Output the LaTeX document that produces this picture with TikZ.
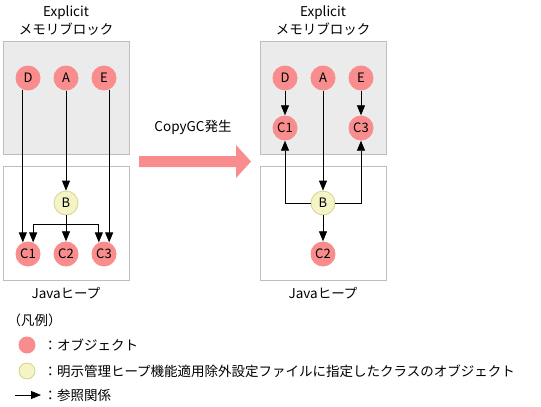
\documentclass[tikz,border=0pt]{standalone}
\usepackage{fontspec}
\setmainfont{Noto Sans CJK JP}
\usetikzlibrary{arrows.meta}

\definecolor{objred}{HTML}{F98C8C}
\definecolor{objyellow}{HTML}{F4F4C6}
\definecolor{objyellowline}{HTML}{D4D48E}
\definecolor{boxgrey}{HTML}{EBEBEB}
\definecolor{boxline}{HTML}{BEBEBE}
\definecolor{bigarrow}{HTML}{F98C8C}

\begin{document}
\begin{tikzpicture}[x=1pt, y=-1pt,
    font=\fontsize{13.5}{15}\selectfont,
    obj/.style={circle, fill=objred, minimum size=25pt, inner sep=0pt, font=\fontsize{13}{14}\selectfont},
    excl/.style={circle, fill=objyellow, draw=objyellowline, line width=0.8pt, minimum size=24pt, inner sep=0pt, font=\fontsize{13}{14}\selectfont},
    explicitbox/.style={fill=boxgrey, draw=boxline, line width=0.8pt},
    heapbox/.style={fill=white, draw=boxline, line width=0.8pt},
    >={Triangle[length=10pt, width=8pt]},
    ref/.style={->, line width=0.8pt}]
    \useasboundingbox (0,0) rectangle (541,407);

    % before CopyGC
    \draw[explicitbox] (3,41) rectangle (129,154);
    \draw[heapbox] (3,166) rectangle (129,280);
    \node (lt1) at (66,13) {Explicit};
    \node (lt2) at (66,29) {メモリブロック};
    \node (lb) at (66,293) {Javaヒープ};
    \node[obj] (D) at (28,78) {D};
    \node[obj] (A) at (66,78) {A};
    \node[obj] (E) at (104,78) {E};
    \node[excl] (B) at (66,203) {B};
    \node[obj] (C1) at (28,254) {C1};
    \node[obj] (C2) at (66,254) {C2};
    \node[obj] (C3) at (104,254) {C3};
    \coordinate (split) at (66,224);
    \draw[ref] (D.-114) -- (C1.114);
    \draw[ref] (E.-66) -- (C3.66);
    \draw[ref] (A) -- (B);
    \draw[ref] (B) -- (C2);
    \draw[ref] (B) -- (split) -| (C1.66);
    \draw[ref] (split) -| (C3.114);

    % CopyGC
    \node (gc) at (193,127) {CopyGC発生};
    \fill[bigarrow] (139,156) -- (236,156) -- (236,145) -- (251,161.5)
        -- (236,178) -- (236,167) -- (139,167) -- cycle;

    % after CopyGC
    \draw[explicitbox] (260,41) rectangle (386,154);
    \draw[heapbox] (260,166) rectangle (386,280);
    \node (rt1) at (323,13) {Explicit};
    \node (rt2) at (323,29) {メモリブロック};
    \node (rb) at (323,293) {Javaヒープ};
    \node[obj] (D') at (285,78) {D};
    \node[obj] (A') at (323,78) {A};
    \node[obj] (E') at (361,78) {E};
    \node[obj] (C1') at (285,128) {C1};
    \node[obj] (C3') at (361,128) {C3};
    \node[excl] (B') at (323,203) {B};
    \node[obj] (C2') at (323,254) {C2};
    \draw[ref] (D') -- (C1');
    \draw[ref] (E') -- (C3');
    \draw[ref] (A') -- (B');
    \draw[ref] (B') -- (C2');
    \draw[ref] (B'.west) -| (C1');
    \draw[ref] (B'.east) -| (C3');

    % legend
    \node[anchor=west] (leg) at (4,320) {（凡例）};
    \node[obj, minimum size=17pt] (legobj) at (27,345) {};
    \node[anchor=west] (legobjt) at (40,345) {：オブジェクト};
    \node[excl, minimum size=16pt] (legexcl) at (27,371) {};
    \node[anchor=west] (legexclt) at (40,371) {：明示管理ヒープ機能適用除外設定ファイルに指定したクラスのオブジェクト};
    \coordinate (legs) at (15,395);
    \coordinate (lege) at (41,395);
    \draw[ref] (legs) -- (lege);
    \node[anchor=west] (legreft) at (40,395) {：参照関係};
\end{tikzpicture}
\end{document}
